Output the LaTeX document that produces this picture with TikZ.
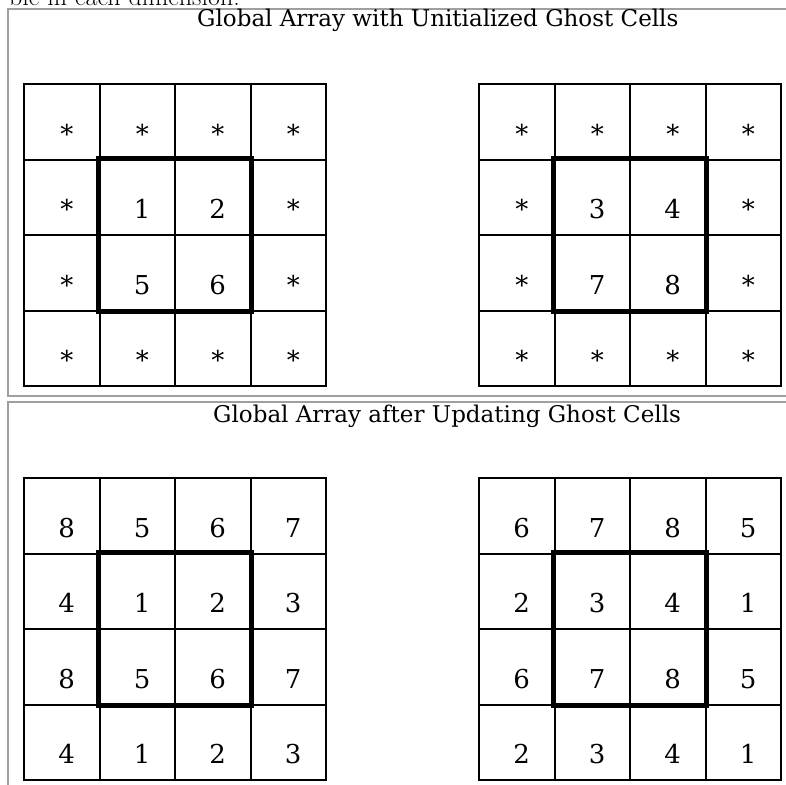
\documentclass[tikz,border=0pt]{standalone}
\usepackage{fontspec}
\newfontfamily\gridfont{DejaVu Serif}
\usetikzlibrary{positioning}

\begin{document}
\begin{tikzpicture}[x=1pt,y=-1pt, cell/.style={draw,line width=2pt,minimum size=75.5pt,inner sep=0pt}, val/.style={anchor=base,inner sep=0pt,font=\gridfont\fontsize{26}{26}\selectfont}, core/.style={line width=4.2pt}, panel/.style={draw=gray!75,line width=2pt}, head/.style={anchor=base west,inner sep=0pt,font=\gridfont\fontsize{23}{23}\selectfont}]
\useasboundingbox[clip] (0,0) rectangle (786,784);
\node[anchor=base east,inner sep=0pt,font=\fontsize{26}{26}\selectfont] (cap) at (240,5.5) {ble in each dimension.};
% the two panels
\draw[panel] (8,9) rectangle (800,396);
\draw[panel] (8,402) rectangle (800,900);
\node[head] (t1) at (197,27) {Global Array with Unitialized Ghost Cells};
\node[head] (t2) at (213,422) {Global Array after Updating Ghost Cells};
% four 4x4 grids, row by row
\foreach \g/\gx/\gy/\data in {tl/24/84/{*,*,*,*,*,1,2,*,*,5,6,*,*,*,*,*}, tr/479/84/{*,*,*,*,*,3,4,*,*,7,8,*,*,*,*,*}, bl/24/478/{8,5,6,7,4,1,2,3,8,5,6,7,4,1,2,3}, br/479/478/{6,7,8,5,2,3,4,1,6,7,8,5,2,3,4,1}}{
  \foreach \v [count=\i from 0] in \data {
    \pgfmathtruncatemacro\r{div(\i,4)}
    \pgfmathtruncatemacro\c{mod(\i,4)}
    \node[cell] (\g-\r-\c) at ({\gx+37.75+75.5*\c},{\gy+37.75+75.5*\r}) {};
    \node[val] (\g-\r-\c-v) at ([xshift=5pt,yshift=-21.5pt]\g-\r-\c.center) {\v};
  }
  \draw[core] (\g-1-1.north west) rectangle (\g-2-2.south east);
}
\end{tikzpicture}
\end{document}
